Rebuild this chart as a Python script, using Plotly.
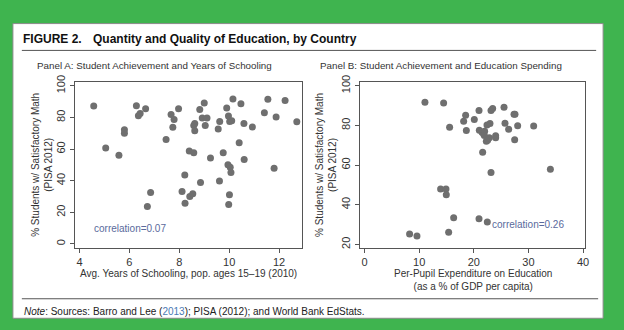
import plotly.graph_objects as go

# Panel A: years of schooling vs % satisfactory math
years_schooling = [4.57, 5.05, 5.58, 5.80, 5.80, 6.28, 6.36, 6.43, 6.65, 6.72, 6.85, 7.47, 7.67, 7.79,
                   7.74, 7.97, 8.22, 8.11, 8.23, 8.40, 8.42, 8.54, 8.58, 8.58, 8.62, 8.62, 8.82, 8.85,
                   8.92, 9.00, 9.04, 9.11, 9.25, 9.56, 9.61, 9.62, 9.76, 9.90, 9.95, 9.97, 10.01, 9.98,
                   10.02, 10.04, 10.10, 10.07, 10.15, 10.40, 10.47, 10.59, 10.60, 10.93, 11.41, 11.55,
                   11.80, 11.88, 12.24, 12.71]
math_a = [87.2, 60.7, 56.0, 72.2, 70.0, 87.4, 81.1, 82.5, 85.4, 23.7, 32.5, 66.0, 81.9, 78.6,
          73.7, 85.4, 43.6, 33.1, 25.7, 58.8, 30.0, 31.7, 57.6, 74.9, 76.1, 71.6, 85.0, 38.9,
          79.6, 89.1, 74.9, 79.6, 54.3, 72.6, 39.7, 77.4, 57.6, 86.0, 50.0, 80.9, 31.1, 24.9,
          77.4, 48.4, 77.8, 45.1, 91.6, 64.0, 88.7, 76.1, 53.3, 73.9, 82.9, 91.4,
          47.9, 80.2, 90.7, 77.2]

# Panel B: per-pupil expenditure vs % satisfactory math
spending = [11.05, 14.47, 15.57, 13.92, 14.90, 14.96, 16.31, 15.39, 8.24, 9.59, 18.14, 18.50, 18.63,
            20.09, 20.95, 21.01, 21.50, 21.80, 21.98, 21.92, 21.62, 22.41, 22.96, 22.29, 22.53, 22.84,
            23.15, 23.45, 24.00, 24.00, 23.15, 20.95, 22.47, 25.53, 25.71, 26.38, 27.36, 27.54, 28.03,
            27.48, 30.96, 34.02]
math_b = [91.6, 91.3, 79.0, 48.0, 48.0, 45.1, 33.4, 26.1, 25.2, 24.3, 82.1, 85.1, 77.4,
          83.0, 87.5, 77.5, 76.6, 75.7, 77.0, 74.9, 66.4, 80.2, 81.0, 72.0, 72.5, 73.8,
          87.5, 88.5, 74.8, 73.8, 56.2, 33.0, 31.3, 89.2, 81.1, 78.0, 85.6, 85.6, 79.8,
          72.8, 79.7, 57.9]

ticks_ax = [4, 6, 8, 10, 12]
ticks_ay = [0, 20, 40, 60, 80, 100]
ticks_bx = [0, 10, 20, 30, 40]
ticks_by = [20, 40, 60, 80, 100]

W, H = 624, 330
def px(x):
    return x / W
def py(y):
    return 1 - y / H

FONT = "Liberation Sans, Arial, sans-serif"
TXT = "#333333"
DOT = "#6f6f6f"
CORR = "#5a6a9c"

fig = go.Figure()
fig.add_trace(go.Scatter(x=years_schooling, y=math_a, mode="markers",
                         marker=dict(color=DOT, size=7, line=dict(width=0)),
                         xaxis="x", yaxis="y", showlegend=False))
fig.add_trace(go.Scatter(x=spending, y=math_b, mode="markers",
                         marker=dict(color=DOT, size=7, line=dict(width=0)),
                         xaxis="x2", yaxis="y2", showlegend=False))

axis_common = dict(showline=True, mirror=True, linecolor="#555555", linewidth=1,
                   ticks="outside", ticklen=4, tickcolor="#555555", showgrid=False,
                   zeroline=False, tickfont=dict(family=FONT, size=11, color=TXT))

fig.update_layout(
    width=W, height=H, margin=dict(l=0, r=0, t=0, b=0),
    paper_bgcolor="#3fb44f", plot_bgcolor="white",
    font=dict(family=FONT, color=TXT),
    xaxis=dict(domain=[px(75), px(304)], range=[3.8, 12.92], tickvals=ticks_ax,
               anchor="y", **axis_common),
    yaxis=dict(domain=[py(247), py(77)], range=[-2.6, 102.3], tickvals=ticks_ay,
               tickangle=-90, anchor="x", **axis_common),
    xaxis2=dict(domain=[px(362), px(589)], range=[-0.9, 40.4], tickvals=ticks_bx,
                anchor="y2", **axis_common),
    yaxis2=dict(domain=[py(247), py(77)], range=[18.2, 101.8], tickvals=ticks_by,
                tickangle=-90, anchor="x2", **axis_common),
)

# white page with frame, rules
fig.add_shape(type="rect", xref="paper", yref="paper", x0=px(13), x1=px(607), y0=py(319), y1=py(17),
              fillcolor="white", line=dict(color="#8a8a8a", width=1), layer="below")
fig.add_shape(type="line", xref="paper", yref="paper", x0=px(22), x1=px(600), y0=py(44.5), y1=py(44.5),
              line=dict(color="#555555", width=1))
fig.add_shape(type="line", xref="paper", yref="paper", x0=px(22), x1=px(602), y0=py(299), y1=py(299),
              line=dict(color="#555555", width=1))

def ann(text, x, y, size, xanchor="left", angle=0, color=TXT, align="left", xref="paper", yref="paper"):
    fig.add_annotation(text=text, x=x, y=y, xref=xref, yref=yref, showarrow=False,
                       xanchor=xanchor, yanchor="middle", textangle=angle, align=align,
                       font=dict(family=FONT, size=size, color=color))

ann("<b>FIGURE 2.</b>", px(21), py(33), 12, color="#111111")
ann("<b>Quantity and Quality of Education, by Country</b>", px(92), py(33), 12, color="#111111")
ann("Panel A: Student Achievement and Years of Schooling", px(35), py(60), 9.8)
ann("Panel B: Student Achievement and Education Spending", px(320), py(60), 9.8)

ann("% Students w/ Satisfactory Math<br>(PISA 2012)", px(42), py(162), 10, xanchor="center",
    angle=-90, align="center")
ann("% Students w/ Satisfactory Math<br>(PISA 2012)", px(328), py(162), 10, xanchor="center",
    angle=-90, align="center")

ann("Avg. Years of Schooling, pop. ages 15\u201319 (2010)", px(190), py(273), 10, xanchor="center")
ann("Per-Pupil Expenditure on Education<br>(as a % of GDP per capita)", px(476), py(280), 10,
    xanchor="center", align="center")

ann("correlation=0.07", 6.03, 9.7, 10, xanchor="center", color=CORR, xref="x", yref="y")
ann("correlation=0.26", 29.9, 30.0, 10, xanchor="center", color=CORR, xref="x2", yref="y2")

ann("<i>Note</i>: Sources: Barro and Lee (<span style='color:#4a7ab5'>2013</span>); PISA (2012); and World Bank EdStats.",
    px(22), py(312.5), 10, color="#222222")

fig.write_html("out.html")
